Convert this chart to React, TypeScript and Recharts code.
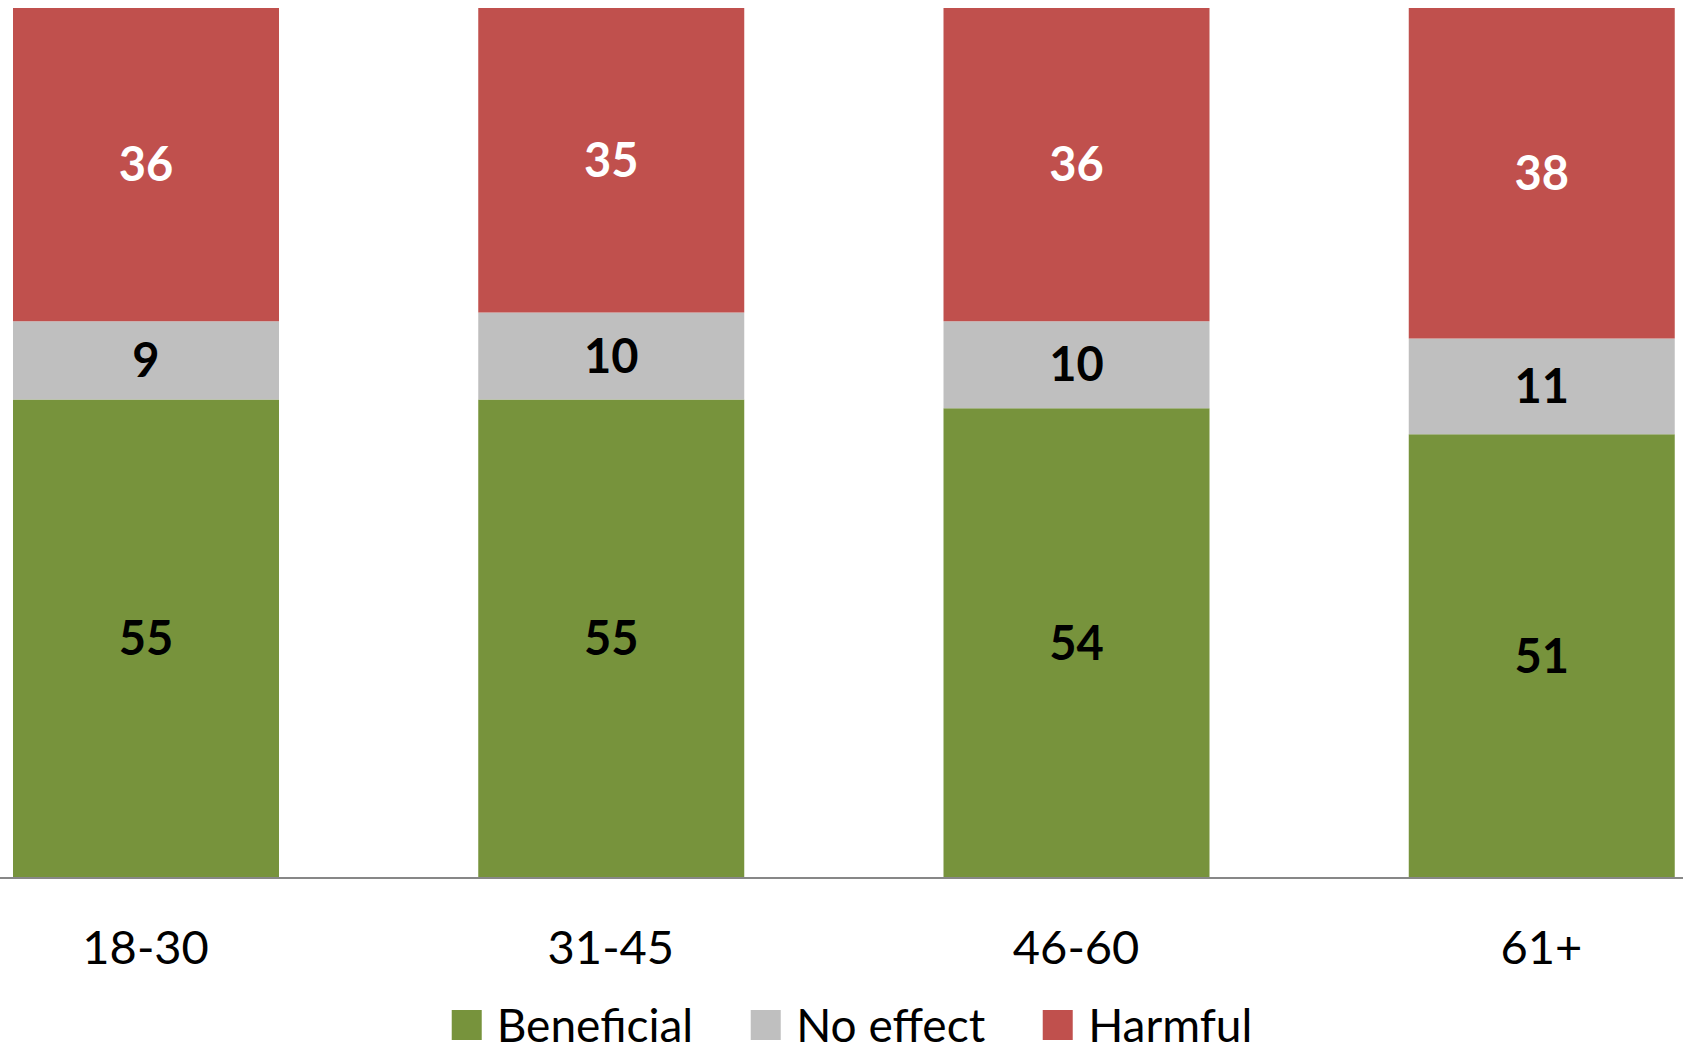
import { BarChart, Bar, XAxis, YAxis, LabelList, Legend } from 'recharts'

const ageGroups = ['18-30', '31-45', '46-60', '61+']
const beneficial = [55, 55, 54, 51]
const noEffect = [9, 10, 10, 11]
const harmful = [36, 35, 36, 38]
const seriesNames = ['Beneficial', 'No effect', 'Harmful']

const data = ageGroups.map((age, i) => ({
  age,
  beneficial: beneficial[i],
  noEffect: noEffect[i],
  harmful: harmful[i],
}))

const FONT = 'Lato, "Open Sans", sans-serif'
const FONT_SIZE = 47

// the original chart is cropped: the first band starts off-screen on the left
const CHART_WIDTH = 1861
const SHIFT = 87

const AgeTick = ({ x, y, payload }: any) => (
  <text x={x} y={y + 84} textAnchor="middle" fontFamily={FONT} fontSize={FONT_SIZE} fill="#000">
    {payload.value}
  </text>
)

const renderLegend = (props: any) => {
  // keep the series order, recharts sorts legend items by name otherwise
  const items = seriesNames
    .map((name) => props.payload.find((p: any) => p.value === name))
    .filter(Boolean)
  return (
    <div style={{ display: 'flex', alignItems: 'center', height: 56, fontFamily: FONT, fontSize: 46, lineHeight: '56px', color: '#000', whiteSpace: 'nowrap' }}>
      {items.map((entry: any, i: number) => (
        <div key={i} style={{ display: 'flex', alignItems: 'center', marginLeft: i === 0 ? 0 : 58 }}>
          <span style={{ display: 'inline-block', width: 30, height: 30, background: entry.color, marginRight: 15 }} />
          <span>{entry.value}</span>
        </div>
      ))}
    </div>
  )
}

export default function App() {
  return (
    <div style={{ position: 'absolute', left: 0, top: 0, width: 1683, height: 1055, overflow: 'hidden', background: '#fff' }}>
      <div style={{ marginLeft: -SHIFT }}>
        <BarChart width={CHART_WIDTH} height={1055} data={data} margin={{ top: 8, right: 0, left: 0, bottom: 0 }}>
          <XAxis
            dataKey="age"
            height={121}
            tickLine={false}
            tickSize={0}
            tick={<AgeTick />}
            axisLine={{ stroke: '#878787', strokeWidth: 2 }}
            interval={0}
          />
          <YAxis hide domain={[0, 100]} />
          <Legend
            content={renderLegend}
            verticalAlign="bottom"
            wrapperStyle={{ top: 997, left: SHIFT + 852, width: 'auto', transform: 'translateX(-50%)' }}
          />
          <Bar dataKey="beneficial" name="Beneficial" stackId="a" fill="#77933C" barSize={266} isAnimationActive={false}>
            <LabelList dataKey="beneficial" position="center" fill="#000" fontFamily={FONT} fontSize={FONT_SIZE} fontWeight="bold" />
          </Bar>
          <Bar dataKey="noEffect" name="No effect" stackId="a" fill="#BFBFBF" barSize={266} isAnimationActive={false}>
            <LabelList dataKey="noEffect" position="center" fill="#000" fontFamily={FONT} fontSize={FONT_SIZE} fontWeight="bold" />
          </Bar>
          <Bar dataKey="harmful" name="Harmful" stackId="a" fill="#C0504D" barSize={266} isAnimationActive={false}>
            <LabelList dataKey="harmful" position="center" fill="#fff" fontFamily={FONT} fontSize={FONT_SIZE} fontWeight="bold" />
          </Bar>
        </BarChart>
      </div>
    </div>
  )
}
